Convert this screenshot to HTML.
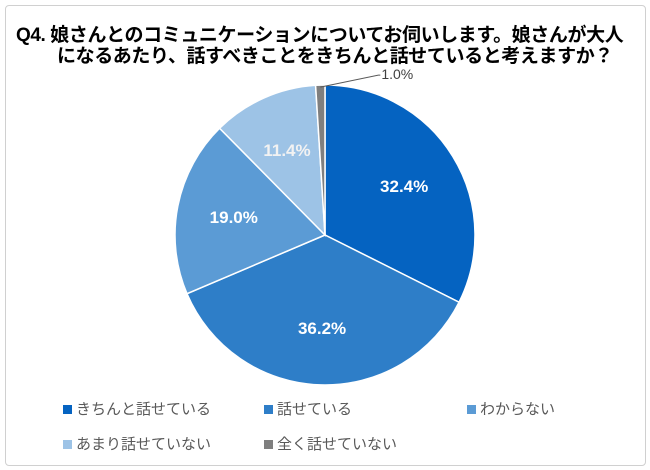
<!DOCTYPE html>
<html><head><meta charset="utf-8"><style>
body{margin:0;width:650px;height:470px;background:#fff;overflow:hidden;font-family:"Liberation Sans","Noto Sans CJK JP",sans-serif}
#frame{position:absolute;left:5px;top:5px;width:639px;height:459px;border:1px solid #d0d0d0;border-radius:4px}
.t{position:absolute;font-weight:bold;font-size:19px;line-height:20px;color:#000;white-space:nowrap;letter-spacing:-0.4px}
.lg{position:absolute;font-size:15px;color:#595959;white-space:nowrap}
.sq{display:inline-block;width:9px;height:9px;margin-right:4px;vertical-align:0px}
</style></head><body>
<div id="frame"></div>
<div class="t" style="left:16px;top:26px">Q4. 娘さんとのコミュニケーションについてお伺いします。娘さんが大人</div>
<div class="t" style="left:57px;top:47px">になるあたり、話すべきことをきちんと話せていると考えますか？</div>
<svg id="pie" width="650" height="470" style="position:absolute;left:0;top:0"></svg>
<div id="legend"></div>
<script>
const categories=["きちんと話せている","話せている","わからない","あまり話せていない","全く話せていない"];
const values=[32.4,36.2,19.0,11.4,1.0];
const labels=["32.4%","36.2%","19.0%","11.4%","1.0%"];
const colors=["#0563c1","#2e7ec8","#5b9bd5","#9dc3e6","#7f7f7f"];
const NS="http://www.w3.org/2000/svg";
const svg=document.getElementById('pie');
const cx=325,cy=235,r=150;
const total=values.reduce((a,b)=>a+b,0);
function pt(a,rr){return [cx+rr*Math.sin(a),cy-rr*Math.cos(a)];}
let ang=0;
values.forEach((v,i)=>{
  const a0=ang,a1=ang+v/total*2*Math.PI;ang=a1;
  const p0=pt(a0,r),p1=pt(a1,r);
  const large=(a1-a0)>Math.PI?1:0;
  const path=document.createElementNS(NS,'path');
  path.setAttribute('d',`M${cx},${cy}L${p0[0]},${p0[1]}A${r},${r} 0 ${large} 1 ${p1[0]},${p1[1]}Z`);
  path.setAttribute('fill',colors[i]);
  path.setAttribute('stroke','#fff');path.setAttribute('stroke-width','1.5');
  
  
  svg.appendChild(path);
  const mid=(a0+a1)/2;
  const tx=document.createElementNS(NS,'text');
  if(v<3){
    const e=pt(mid,r-2);
    const ln=document.createElementNS(NS,'polyline');
    ln.setAttribute('points',`${e[0]},${e[1]} ${e[0]+58},${e[1]-12} ${e[0]+60},${e[1]-12}`);
    ln.setAttribute('fill','none');ln.setAttribute('stroke','#595959');ln.setAttribute('stroke-width','1');
    
    
    svg.appendChild(ln);
    tx.setAttribute('x',e[0]+61);tx.setAttribute('y',e[1]-8);
    tx.setAttribute('fill','#404040');tx.setAttribute('font-size','14');
  }else{
    const p=pt(mid,r*0.62);
    tx.setAttribute('x',p[0]);tx.setAttribute('y',p[1]+6);
    tx.setAttribute('text-anchor','middle');
    tx.setAttribute('fill',i==3?'#f2f2f2':'#fff');tx.setAttribute('font-size','17');tx.setAttribute('font-weight','bold');
  }
  tx.textContent=labels[i];
  
  
  svg.appendChild(tx);
});
const lg=document.getElementById('legend');
const pos=[[63,398],[264,398],[467,398],[63,433],[264,433]];
categories.forEach((c,i)=>{
  const d=document.createElement('div');
  d.className='lg';d.style.left=pos[i][0]+'px';d.style.top=pos[i][1]+'px';
  d.innerHTML=`<span class="sq" style="background:${colors[i]}"></span>${c}`;
  
  
  lg.appendChild(d);
});
</script>
</body></html>
